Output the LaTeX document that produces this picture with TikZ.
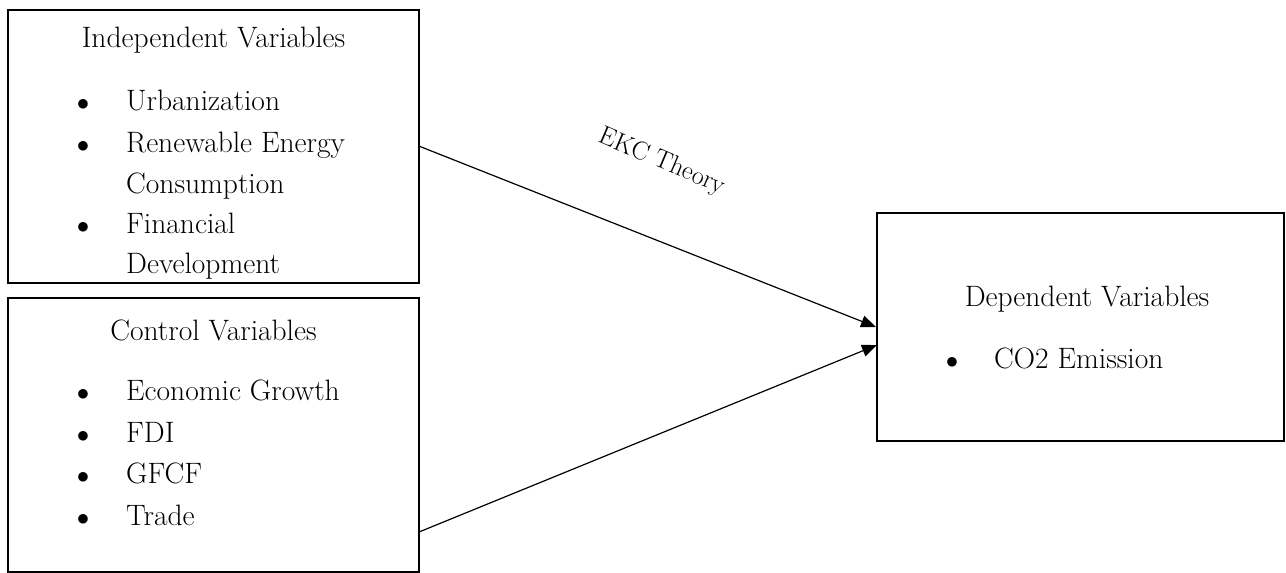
\documentclass[tikz,border=0pt]{standalone}
\usetikzlibrary{arrows.meta}
\begin{document}
\begin{tikzpicture}[x=1pt,y=-1pt,
  box/.style={draw,line width=2pt,inner sep=0pt},
  txt/.style={anchor=base west,inner sep=0pt,font=\fontsize{29.5}{34}\selectfont},
  ttl/.style={anchor=base,inner sep=0pt,font=\fontsize{29.5}{34}\selectfont},
  bul/.style={anchor=base,inner sep=0pt,font=\fontsize{28}{30}\selectfont},
  conn/.style={line width=1.2pt,-{Triangle[length=15pt,width=12pt]}}]
\useasboundingbox (0,0) rectangle (1286,573);
% boxes
\node[box,minimum width=411pt,minimum height=273pt] (ind) at (213.5,146.5) {};
\node[box,minimum width=411pt,minimum height=274pt] (ctl) at (213.5,435) {};
\node[box,minimum width=407pt,minimum height=228pt] (dep) at (1080.5,327) {};
% independent text
\node[ttl] (t1) at (213.5,47) {Independent Variables};
\node[bul] (b11) at (83,110) {$\bullet$};
\node[txt] (i1) at (126,110) {Urbanization};
\node[bul] (b12) at (83,152) {$\bullet$};
\node[txt] (i2) at (126,152) {Renewable Energy};
\node[txt] (i3) at (126,193) {Consumption};
\node[bul] (b13) at (83,233) {$\bullet$};
\node[txt] (i4) at (126,233) {Financial};
\node[txt] (i5) at (126,273) {Development};
% control text
\node[ttl] (t2) at (213.5,340) {Control Variables};
\node[bul] (b21) at (83,400) {$\bullet$};
\node[txt] (c1) at (126,400) {Economic Growth};
\node[bul] (b22) at (83,442) {$\bullet$};
\node[txt] (c2) at (126,442) {FDI};
\node[bul] (b23) at (83,483) {$\bullet$};
\node[txt] (c3) at (126,483) {GFCF};
\node[bul] (b24) at (83,525) {$\bullet$};
\node[txt] (c4) at (126,525) {Trade};
% dependent text
\node[ttl] (t3) at (1087,306) {Dependent Variables};
\node[bul] (b31) at (952,368) {$\bullet$};
\node[txt] (d1) at (994,368) {CO2 Emission};
% label
\node[inner sep=0pt,rotate=-23,font=\fontsize{26}{30}\selectfont] (ekc) at (662,162) {EKC Theory};
% connectors
\coordinate (s2) at (419,532);
\coordinate (e2) at (877,345);
\draw[conn] (ind.east) -- (dep.west);
\draw[conn] (s2) -- (e2);
\end{tikzpicture}
\end{document}
